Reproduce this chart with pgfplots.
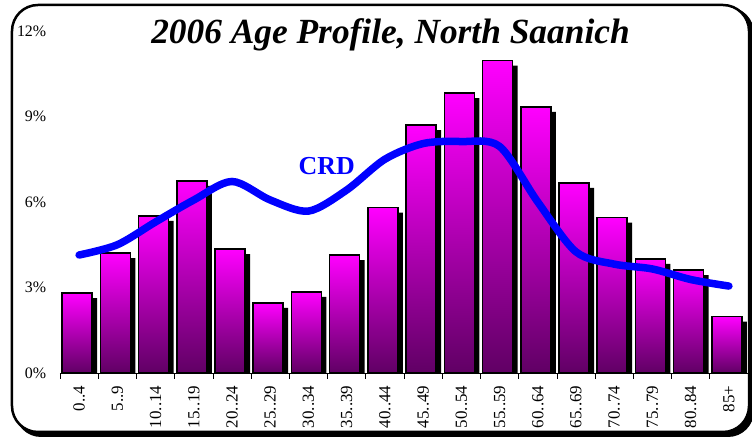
\documentclass[border=0pt]{standalone}
\usepackage{fontspec}
\setmainfont{Liberation Serif}
\usepackage{pgfplots}
\pgfplotsset{compat=1.18}

\definecolor{barTop}{RGB}{255,0,255}
\definecolor{barBot}{RGB}{96,0,100}
\definecolor{crdBlue}{RGB}{0,0,255}

\pgfplotsset{
  agebar/.style={ybar, bar width=30bp, bar shift=-2bp, draw=black,
    line width=1.5bp, top color=barTop, bottom color=barBot},
}

\begin{document}
\begin{tikzpicture}[x=1bp,y=1bp]
% picture size = reference size, axis box at origin
\useasboundingbox (-60,-67) rectangle (692,373);
% rounded frame with shadow
\fill[black, rounded corners=26bp] (-45,-64) rectangle (694,366);
\filldraw[fill=white, draw=black, line width=2.5bp, rounded corners=26bp] (-48,-59) rectangle (689,368);

\begin{axis}[
    scale only axis,
    width=688bp, height=342bp,
    xmin=-0.5, xmax=17.5,
    ymin=0, ymax=12,
    axis lines*=left,
    y axis line style={draw=none},
    x axis line style={line width=0.6bp},
    ytick={0,3,6,9,12},
    yticklabel={\pgfmathprintnumber{\tick}\%},
    ytick style={draw=none},
    yticklabel style={xshift=-6bp},
    xtick={0,...,17},
    xticklabels={0..4,5..9,10..14,15..19,20..24,25..29,30..34,35..39,40..44,
      45..49,50..54,55..59,60..64,65..69,70..74,75..79,80..84,85+},
    xticklabel style={rotate=90, anchor=east, xshift=-5bp,
      font=\fontsize{17}{19}\selectfont},
    major x tick style={draw=none},
    minor xtick={-0.5,0.5,...,17.5},
    minor tick length=6bp,
    tick align=outside,
    minor x tick style={black, line width=0.6bp},
    yticklabel style={font=\fontsize{16}{18}\selectfont},
    /pgf/number format/assume math mode=true,
    title={2006 Age Profile, North Saanich},
    title style={at={(0.4804,0.947)}, anchor=base,
      font=\fontsize{35.5}{38}\selectfont\bfseries\itshape},
    clip=true,
]
% bar shadows
\addplot[ybar, bar width=30bp, bar shift=-2bp, fill=black, draw=none,
  xshift=5bp, yshift=-5bp] coordinates {
 (0,2.80) (1,4.21) (2,5.51) (3,6.74) (4,4.35) (5,2.46) (6,2.85) (7,4.14) (8,5.80)
 (9,8.70) (10,9.82) (11,10.96) (12,9.34) (13,6.67) (14,5.45) (15,4.00) (16,3.61) (17,1.98)};
% bars, one plot each so every bar gets its own gradient
\addplot[agebar] coordinates {(0,2.80)};
\addplot[agebar] coordinates {(1,4.21)};
\addplot[agebar] coordinates {(2,5.51)};
\addplot[agebar] coordinates {(3,6.74)};
\addplot[agebar] coordinates {(4,4.35)};
\addplot[agebar] coordinates {(5,2.46)};
\addplot[agebar] coordinates {(6,2.85)};
\addplot[agebar] coordinates {(7,4.14)};
\addplot[agebar] coordinates {(8,5.80)};
\addplot[agebar] coordinates {(9,8.70)};
\addplot[agebar] coordinates {(10,9.82)};
\addplot[agebar] coordinates {(11,10.96)};
\addplot[agebar] coordinates {(12,9.34)};
\addplot[agebar] coordinates {(13,6.67)};
\addplot[agebar] coordinates {(14,5.45)};
\addplot[agebar] coordinates {(15,4.00)};
\addplot[agebar] coordinates {(16,3.61)};
\addplot[agebar] coordinates {(17,1.98)};
% CRD profile
\addplot[crdBlue, line width=7.5bp, smooth, line cap=round, mark=none] coordinates {
 (0,4.14) (1,4.50) (2,5.30) (3,6.07) (4,6.72) (5,6.07) (6,5.68) (7,6.42) (8,7.50)
 (9,8.05) (10,8.12) (11,7.95) (12,6.00) (13,4.25) (14,3.82) (15,3.65) (16,3.28) (17,3.05)};
\node[text=crdBlue, font=\fontsize{26}{28}\selectfont\bfseries] at (axis cs:6.48,7.26) {CRD};
\end{axis}
\end{tikzpicture}
\end{document}
